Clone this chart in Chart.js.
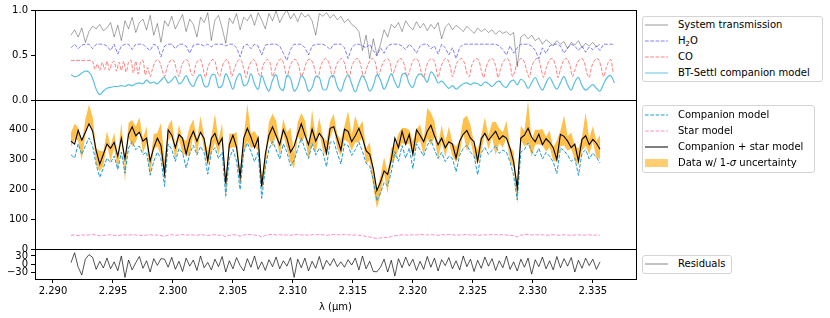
<!DOCTYPE html>
<html>
<head>
<meta charset="utf-8">
<script src="https://cdn.jsdelivr.net/npm/chart.js@4.4.0/dist/chart.umd.min.js"></script>
<style>
  body { margin: 0; background: #fff; font-family: 'DejaVu Sans', sans-serif; }
  #wrap { position: relative; width: 830px; height: 318px; }
  #chart { position: absolute; left: 0; top: 0; }
  .legend { position: absolute; border: 1px solid #d4d4d4; border-radius: 3px; background: #fff; box-sizing: border-box; font-size: 10px; color: #000; }
  .legend .row { position: absolute; left: 2px; height: 14px; line-height: 14px; white-space: nowrap; }
  .legend svg { position: absolute; left: 0; top: 2px; }
  .legend span { position: absolute; left: 33px; }
  .legend sub { font-size: 7px; line-height: 0; vertical-align: -2px; }
</style>
</head>
<body>
<div id="wrap">
  <canvas id="chart" width="830" height="318"></canvas>

  <div class="legend" style="left:642px;top:16px;width:181px;height:66px">
    <div class="row" style="top:1px"><svg width="23" height="10"><line x1="0" y1="5" x2="23" y2="5" stroke="rgba(0,0,0,0.5)" stroke-width="0.8"/></svg><span>System transmission</span></div>
    <div class="row" style="top:17px"><svg width="23" height="10"><line x1="0" y1="5" x2="23" y2="5" stroke="rgba(0,0,255,0.5)" stroke-width="1" stroke-dasharray="3.7 1.6"/></svg><span>H<sub>2</sub>O</span></div>
    <div class="row" style="top:33px"><svg width="23" height="10"><line x1="0" y1="5" x2="23" y2="5" stroke="rgba(255,0,0,0.5)" stroke-width="1" stroke-dasharray="3.7 1.6"/></svg><span>CO</span></div>
    <div class="row" style="top:49px"><svg width="23" height="10"><line x1="0" y1="5" x2="23" y2="5" stroke="rgb(150,215,235)" stroke-width="1.5"/></svg><span>BT-Settl companion model</span></div>
  </div>

  <div class="legend" style="left:642px;top:105px;width:173px;height:68px">
    <div class="row" style="top:2px"><svg width="23" height="10"><line x1="0" y1="5" x2="23" y2="5" stroke="#1a9ad6" stroke-width="1" stroke-dasharray="3.7 1.6"/></svg><span>Companion model</span></div>
    <div class="row" style="top:18px"><svg width="23" height="10"><line x1="0" y1="5" x2="23" y2="5" stroke="#ff8cc8" stroke-width="1" stroke-dasharray="3.7 1.6"/></svg><span>Star model</span></div>
    <div class="row" style="top:34px"><svg width="23" height="10"><line x1="0" y1="5" x2="23" y2="5" stroke="#000" stroke-width="1"/></svg><span>Companion + star model</span></div>
    <div class="row" style="top:50px"><svg width="23" height="10"><rect x="0" y="1" width="23" height="8" fill="rgba(255,165,0,0.55)"/></svg><span>Data w/ 1-<i>σ</i> uncertainty</span></div>
  </div>

  <div class="legend" style="left:642px;top:255px;width:90px;height:19px">
    <div class="row" style="top:1px"><svg width="23" height="10"><line x1="0" y1="5" x2="23" y2="5" stroke="rgba(0,0,0,0.6)" stroke-width="0.8"/></svg><span>Residuals</span></div>
  </div>
</div>

<script>
"use strict";

// wavelength sampling (um)
var lamStart = 2.2915;
var lamStep = 0.0003;
var coStep = 0.0002;

// axis ticks
var xTicks = [2.290, 2.295, 2.300, 2.305, 2.310, 2.315, 2.320, 2.325, 2.330, 2.335];
var topTicks = [0, 0.5, 1.0];
var midTicks = [0, 100, 200, 300, 400];
var botTicks = [-30, 0, 30];

// top panel: normalised curves
var transmission = [
  0.72,0.78,0.70,0.80,0.64,0.76,0.82,0.79,0.84,0.77,
  0.80,0.86,0.70,0.83,0.66,0.88,0.79,0.92,0.75,0.86,
  0.90,0.78,0.94,0.72,0.85,0.64,0.88,0.82,0.93,0.79,
  0.87,0.95,0.76,0.90,0.84,0.70,0.92,0.86,0.97,0.66,
  0.89,0.94,0.80,0.63,0.91,0.85,0.96,0.78,0.92,0.88,
  0.95,0.83,0.97,0.89,0.79,0.96,0.88,0.99,0.86,0.94,
  1.00,0.90,0.96,0.87,0.97,0.92,0.95,0.88,0.72,0.96,
  0.93,0.97,0.91,0.95,0.89,0.93,0.86,0.90,0.84,0.81,
  0.76,0.55,0.72,0.46,0.68,0.50,0.62,0.78,0.70,0.84,
  0.80,0.86,0.76,0.88,0.82,0.78,0.87,0.80,0.85,0.77,
  0.84,0.79,0.86,0.68,0.81,0.85,0.78,0.83,0.80,0.76,
  0.82,0.78,0.74,0.80,0.76,0.79,0.75,0.78,0.73,0.77,
  0.74,0.76,0.72,0.75,0.37,0.70,0.73,0.68,0.72,0.66,
  0.69,0.62,0.67,0.64,0.60,0.66,0.62,0.65,0.57,0.64,
  0.61,0.66,0.58,0.63,0.60,0.64,0.59,0.62
];

var h2oModel = [
  0.58,0.62,0.57,0.61,0.62,0.62,0.57,0.62,0.62,0.62,
  0.60,0.55,0.62,0.51,0.60,0.62,0.62,0.56,0.62,0.62,
  0.62,0.58,0.55,0.62,0.60,0.48,0.60,0.62,0.62,0.57,
  0.62,0.62,0.60,0.52,0.61,0.62,0.62,0.60,0.62,0.59,
  0.62,0.62,0.62,0.60,0.62,0.62,0.58,0.48,0.60,0.62,
  0.57,0.62,0.60,0.50,0.61,0.62,0.62,0.62,0.60,0.52,
  0.44,0.56,0.62,0.62,0.62,0.58,0.50,0.60,0.62,0.62,
  0.62,0.60,0.56,0.62,0.62,0.62,0.58,0.46,0.58,0.62,
  0.62,0.60,0.58,0.62,0.55,0.49,0.58,0.52,0.60,0.62,
  0.62,0.62,0.60,0.56,0.62,0.58,0.52,0.60,0.62,0.62,
  0.57,0.60,0.51,0.62,0.58,0.50,0.58,0.46,0.58,0.62,
  0.62,0.62,0.62,0.62,0.62,0.62,0.62,0.62,0.62,0.60,
  0.56,0.50,0.60,0.52,0.58,0.62,0.62,0.62,0.60,0.55,
  0.46,0.58,0.52,0.60,0.62,0.62,0.60,0.52,0.58,0.62,
  0.60,0.55,0.60,0.53,0.59,0.56,0.60,0.55,0.62,0.62,
  0.62,0.62
];

var coModel = [
  .44,.44,.44,.44,.44,.44,.44,.44,.44,.43,
  .34,.40,.33,.42,.34,.43,.33,.41,.43,.32,
  .42,.33,.43,.31,.42,.44,.30,.43,.29,.42,
  .44,.28,.36,.26,.35,.42,.45,.42,.33,.26,
  .36,.42,.45,.43,.33,.26,.37,.43,.45,.42,
  .30,.27,.39,.44,.45,.36,.25,.36,.42,.45,
  .43,.31,.26,.37,.43,.45,.39,.26,.34,.41,
  .45,.44,.35,.25,.36,.42,.45,.42,.31,.26,
  .38,.43,.45,.41,.26,.33,.41,.45,.45,.36,
  .25,.35,.42,.45,.44,.37,.26,.32,.41,.45,
  .45,.40,.30,.25,.37,.43,.46,.44,.37,.25,
  .33,.41,.45,.46,.41,.30,.25,.37,.43,.46,
  .45,.36,.25,.33,.41,.45,.46,.40,.26,.33,
  .41,.45,.46,.41,.27,.35,.42,.46,.45,.39,
  .26,.31,.40,.45,.46,.42,.31,.25,.36,.43,
  .46,.45,.38,.25,.35,.42,.46,.45,.38,.26,
  .34,.42,.45,.46,.41,.30,.26,.38,.44,.46,
  .44,.33,.25,.36,.43,.46,.45,.38,.25,.34,
  .42,.45,.46,.40,.26,.32,.41,.45,.46,.42,
  .32,.25,.37,.43,.46,.45,.34,.25,.35,.42,
  .46,.45,.38,.25,.34,.42,.46,.45,.38,.26,
  .33,.41,.45,.46,.42,.30,.25,.37,.43,.46,
  .45,.36,.26,.35,.42,.45,.30
];

var btSettl = [
  0.28,0.26,0.27,0.30,0.32,0.31,0.24,0.12,0.06,0.10,
  0.13,0.14,0.15,0.15,0.16,0.15,0.17,0.16,0.18,0.19,
  0.18,0.22,0.19,0.20,0.18,0.22,0.25,0.19,0.22,0.26,
  0.18,0.21,0.27,0.19,0.15,0.24,0.28,0.16,0.15,0.27,
  0.28,0.14,0.16,0.29,0.22,0.12,0.24,0.29,0.16,0.18,
  0.29,0.18,0.12,0.27,0.17,0.10,0.22,0.28,0.14,0.11,
  0.27,0.24,0.10,0.15,0.27,0.22,0.10,0.14,0.26,0.25,
  0.12,0.12,0.25,0.27,0.15,0.10,0.21,0.28,0.18,0.09,
  0.19,0.27,0.20,0.10,0.16,0.28,0.22,0.12,0.20,0.29,
  0.20,0.14,0.28,0.29,0.18,0.14,0.25,0.29,0.26,0.20,
  0.31,0.27,0.19,0.21,0.17,0.13,0.16,0.12,0.15,0.18,
  0.19,0.17,0.19,0.18,0.16,0.20,0.18,0.15,0.19,0.21,
  0.16,0.14,0.20,0.22,0.17,0.23,0.20,0.13,0.19,0.25,
  0.17,0.11,0.19,0.25,0.18,0.12,0.19,0.26,0.17,0.11,
  0.20,0.25,0.16,0.11,0.14,0.17,0.13,0.10,0.18,0.25,
  0.27,0.19
];

// middle panel: flux
var companionModel = [
  316,305,353,317,346,373,347,283,241,272,
  305,290,312,267,325,254,339,361,333,346,
  317,325,248,294,325,303,210,353,334,294,
  337,323,272,320,348,316,344,323,251,325,
  340,304,325,179,304,334,295,199,325,356,
  327,293,326,170,272,334,361,333,302,353,
  325,279,297,336,373,335,304,354,315,339,
  324,276,358,361,322,285,353,347,314,333,
  359,327,288,278,232,161,188,223,212,258,
  327,294,347,305,339,270,353,333,312,348,
  367,333,304,324,293,311,304,259,315,337,
  349,325,312,249,323,340,318,331,347,321,
  332,325,292,247,165,325,334,356,328,312,
  338,302,324,311,292,253,339,330,315,294,
  305,247,322,333,302,322,308,289
];

var starModel = [
  46,47,45,48,46,47,49,47,44,46,
  47,48,46,45,47,48,46,49,47,46,
  45,47,48,46,47,45,42,47,48,46,
  47,49,46,48,47,46,48,47,45,47,
  48,46,47,41,46,48,47,43,47,49,
  48,47,46,40,46,48,49,47,48,47,
  47,46,48,49,47,48,46,48,47,49,
  48,46,47,49,48,47,49,48,46,47,
  46,45,42,40,38,35,37,39,38,42,
  45,46,48,47,46,48,47,49,48,47,
  48,47,46,48,47,49,48,46,47,48,
  49,47,48,46,47,48,47,49,48,47,
  48,47,46,45,40,47,48,49,47,48,
  47,48,46,47,48,47,46,48,47,46,
  47,48,46,47,48,46,47,46
];

// bottom panel: data - model
var residuals = [
  5,42,-12,-41,18,35,25,-20,10,-15,
  22,-18,8,-25,30,-50,15,-22,5,28,
  -16,12,-30,20,-5,20,18,-12,25,-20,
  10,-28,22,-8,15,-24,30,-14,6,-22,
  18,-10,28,-30,12,-18,24,-6,-26,20,
  -12,30,-20,8,-24,16,-10,26,-18,12,
  -8,24,-50,18,-14,22,-26,10,-16,28,
  -20,14,-6,20,-10,8,-12,16,-4,22,
  -22,30,-18,10,-28,-29,-12,18,-30,14,
  -45,20,-14,26,-8,18,-24,10,-20,28,
  -12,22,-26,16,-6,24,-18,12,-22,30,
  -10,18,-28,14,-16,26,-8,20,-24,12,
  -14,30,-20,8,-26,18,-12,22,-38,16,
  -10,26,-18,12,-22,28,-14,20,-8,24,
  -30,14,-16,22,-6,18,-20,8
];

// 1-sigma flux uncertainty
var fluxErr = [
  24,26,22,28,25,30,23,27,35,24,
  22,26,25,28,23,27,24,45,26,22,
  25,28,24,26,22,55,27,24,28,25,
  23,26,22,50,25,28,24,22,26,27,
  48,25,23,30,26,22,27,24,28,62,
  24,26,22,28,25,27,55,24,22,26,
  27,58,25,23,50,26,24,55,27,25,
  22,26,28,24,25,27,23,52,26,45,
  24,28,26,30,35,30,32,28,35,26,
  24,27,25,28,22,26,24,27,25,50,
  55,26,24,28,25,27,23,26,24,22,
  60,26,24,25,27,28,23,25,56,24,
  26,28,25,27,30,24,26,70,28,25,
  24,27,25,28,22,35,26,50,24,27,
  25,28,24,55,27,26,28,40
];

var lam = [];
for (var i = 0; i < btSettl.length; i++) lam.push(+(lamStart + i * lamStep).toFixed(5));
var lamCO = [];
for (var j = 0; j < coModel.length; j++) lamCO.push(+(lamStart + j * coStep).toFixed(5));

var combined = companionModel.map(function(v, i) { return v + starModel[i]; });
var dataFlux = combined.map(function(v, i) { return v + residuals[i]; });
var dataLow = dataFlux.map(function(v, i) { return v - fluxErr[i]; });
var dataHigh = dataFlux.map(function(v, i) { return v + fluxErr[i]; });

function pts(xs, ys) {
  return ys.map(function(v, i) { return {x: xs[i], y: v}; });
}

var dash = [3.7, 1.6];
var tickFont = {family: 'DejaVu Sans', size: 10};

function yAxis(weight, min, max, ticks, fmt) {
  return {
    type: 'linear',
    position: 'left',
    stack: 'panels',
    stackWeight: weight,
    min: min,
    max: max,
    afterBuildTicks: function(s) { s.ticks = ticks.map(function(v) { return {value: v}; }); },
    afterFit: function(s) { s.width = 35; },
    ticks: {autoSkip: false, font: tickFont, color: '#000', padding: 3, callback: fmt},
    grid: {drawOnChartArea: false, drawTicks: true, tickLength: 4, color: '#000'},
    border: {display: false}
  };
}

// boxes round each panel, like the matplotlib spines
var panelFrames = {
  id: 'panelFrames',
  afterDatasetsDraw: function(chart) {
    var ctx = chart.ctx, area = chart.chartArea;
    ctx.save();
    ctx.strokeStyle = '#000';
    ctx.lineWidth = 1;
    ['yTop', 'yMid', 'yBot'].forEach(function(id) {
      var s = chart.scales[id];
      ctx.strokeRect(Math.round(area.left) + 0.5, Math.round(s.top) + 0.5,
        Math.round(area.right - area.left), Math.round(s.bottom - s.top));
    });
    ctx.restore();
  }
};

var ctx = document.getElementById('chart').getContext('2d');
var myChart = new Chart(ctx, {
  type: 'line',
  data: {
    datasets: [
      {
        label: 'System transmission', yAxisID: 'yTop', order: 3,
        data: pts(lam, transmission),
        borderColor: 'rgba(0,0,0,0.5)', borderWidth: 0.7
      },
      {
        label: 'H2O', yAxisID: 'yTop', order: 2,
        data: pts(lam, h2oModel),
        borderColor: 'rgba(0,0,255,0.5)', borderWidth: 1, borderDash: dash
      },
      {
        label: 'CO', yAxisID: 'yTop', order: 2,
        data: pts(lamCO, coModel),
        borderColor: 'rgba(255,0,0,0.5)', borderWidth: 1, borderDash: dash, tension: 0.3
      },
      {
        label: 'BT-Settl companion model', yAxisID: 'yTop', order: 1,
        data: pts(lam, btSettl),
        borderColor: 'rgb(91,192,222)', borderWidth: 1.2, tension: 0.4
      },
      {
        label: 'data low', yAxisID: 'yMid', order: 4,
        data: pts(lam, dataLow),
        borderWidth: 0, borderColor: 'rgba(0,0,0,0)', fill: false
      },
      {
        label: 'Data w/ 1-sigma uncertainty', yAxisID: 'yMid', order: 4,
        data: pts(lam, dataHigh),
        borderWidth: 0, borderColor: 'rgba(0,0,0,0)',
        backgroundColor: 'rgba(255,165,0,0.7)', fill: '-1'
      },
      {
        label: 'Companion model', yAxisID: 'yMid', order: 2,
        data: pts(lam, companionModel),
        borderColor: '#1a9ad6', borderWidth: 1, borderDash: dash
      },
      {
        label: 'Star model', yAxisID: 'yMid', order: 2,
        data: pts(lam, starModel),
        borderColor: '#ff8cc8', borderWidth: 1, borderDash: dash
      },
      {
        label: 'Companion + star model', yAxisID: 'yMid', order: 0,
        data: pts(lam, combined),
        borderColor: '#000', borderWidth: 1.1
      },
      {
        label: 'Residuals', yAxisID: 'yBot', order: 0,
        data: pts(lam, residuals),
        borderColor: 'rgba(0,0,0,0.85)', borderWidth: 0.8
      }
    ]
  },
  options: {
    responsive: false,
    animation: false,
    layout: {padding: {left: 0, right: 194, top: 10, bottom: 0}},
    elements: {point: {radius: 0}, line: {tension: 0}},
    plugins: {
      legend: {display: false},
      tooltip: {enabled: false}
    },
    scales: {
      x: {
        type: 'linear',
        position: 'bottom',
        min: 2.2885,
        max: 2.3386,
        afterBuildTicks: function(s) { s.ticks = xTicks.map(function(v) { return {value: v}; }); },
        afterFit: function(s) { s.height = 39; },
        ticks: {
          autoSkip: false, maxRotation: 0, font: tickFont, color: '#000', padding: 2,
          callback: function(v) { return Number(v).toFixed(3); }
        },
        grid: {drawOnChartArea: false, drawTicks: true, tickLength: 4, color: '#000'},
        border: {display: false},
        title: {display: true, text: 'λ (µm)', font: tickFont, color: '#000', padding: {top: 0, bottom: 5}}
      },
      yBot: yAxis(30, -56, 56, botTicks, function(v) { return v < 0 ? '\u2212' + (-v) : String(v); }),
      yMid: yAxis(149, 0, 500, midTicks, function(v) { return String(v); }),
      yTop: yAxis(90, 0, 1, topTicks, function(v) { return Number(v).toFixed(1); })
    }
  },
  plugins: [panelFrames]
});
</script>
</body>
</html>
